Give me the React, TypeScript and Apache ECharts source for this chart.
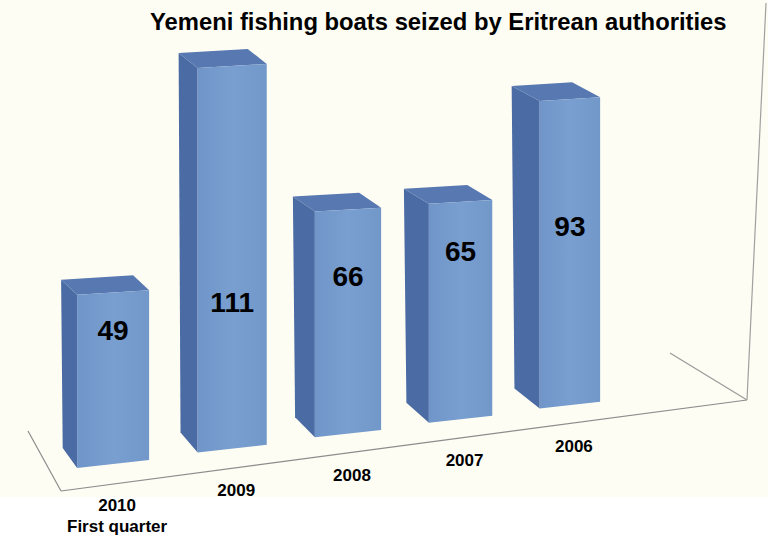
import React, { useEffect, useRef } from "react";
import * as echarts from "echarts";

const titleText = "Yemeni fishing boats seized by Eritrean authorities";
const categories = ["2010\nFirst quarter", "2009", "2008", "2007", "2006"];
const seized = [49, 111, 66, 65, 93];

export default function App() {
  const ref = useRef<HTMLDivElement>(null);
  useEffect(() => {
    if (!ref.current) return;
    const chart = echarts.init(ref.current, undefined, { renderer: "svg" });
    const n = categories.length;
    const font = "'Liberation Sans', Arial, sans-serif";
    const option: any = {
      animation: false,
      backgroundColor: "#ffffff",
      title: {
        text: titleText,
        left: 145,
        top: 4,
        textStyle: { fontFamily: font, fontSize: 23.8, fontWeight: "bold", color: "#000" },
      },
      grid: { left: 56, right: 141, top: 44, bottom: 73 },
      xAxis: { type: "category", data: categories, show: false },
      yAxis: { type: "value", min: 0, max: 120, show: false },
      graphic: [
        { type: "rect", z: -10, silent: true, shape: { x: 0, y: 0, width: 768, height: 497 }, style: { fill: "#fefdf3" } },
        { type: "line", z: 1, silent: true, shape: { x1: 28, y1: 431, x2: 61, y2: 491 }, style: { stroke: "#8c8c8c", lineWidth: 1.2 } },
        { type: "line", z: 1, silent: true, shape: { x1: 61, y1: 491, x2: 747, y2: 400 }, style: { stroke: "#8c8c8c", lineWidth: 1.2 } },
        { type: "line", z: 1, silent: true, shape: { x1: 670, y1: 353, x2: 747, y2: 400 }, style: { stroke: "#9a9a9a", lineWidth: 1.2 } },
        { type: "line", z: 1, silent: true, shape: { x1: 747, y1: 400, x2: 766, y2: 3 }, style: { stroke: "#a0a0a0", lineWidth: 1.2 } },
      ],
      series: [
        {
          type: "custom",
          data: seized.map((v, i) => [i, v]),
          encode: { x: 0, y: 1 },
          renderItem: (params: any, api: any) => {
            const i = api.value(0);
            const v = api.value(1);
            const first = api.coord([0, 0]);
            const last = api.coord([n - 1, 0]);
            const base = api.coord([i, 0]);
            const topLin = api.coord([i, v]);
            const span = last[0] - first[0];
            const t = (base[0] - first[0]) / span;
            const k = 0.057;
            const xc = first[0] + span * (t * (1 + k) - k * t * t);
            const yb = base[1] - 0.129 * (xc - first[0]);
            const h = (base[1] - topLin[1]) * (1 - 0.06 * t);
            const yt = yb - h;
            const w = 72 * (1 - 0.16 * t);
            const BL = [xc - w / 2, yb + 0.11 * w / 2];
            const BR = [xc + w / 2, yb - 0.11 * w / 2];
            const TL = [xc - w / 2, yt + 0.06 * w / 2];
            const TR = [xc + w / 2, yt - 0.06 * w / 2];
            const dx = -(16 + 12 * t);
            const dy = -15;
            const TLb = [TL[0] + dx, TL[1] + dy];
            const TRb = [TR[0] + dx, TR[1] + dy];
            const BLb = [BL[0] + dx * 0.9, BL[1] - 20];
            const labelY = first[1] - 134 - 0.227 * (xc - first[0]);
            return {
              type: "group",
              children: [
                { type: "polygon", shape: { points: [TLb, TL, BL, BLb] }, style: { fill: "#4a6ba3" } },
                { type: "polygon", shape: { points: [TLb, TRb, TR, TL] }, style: { fill: "#5878b1" } },
                {
                  type: "polygon",
                  shape: { points: [TL, TR, BR, BL] },
                  style: {
                    fill: new echarts.graphic.LinearGradient(0, 0, 1, 0, [
                      { offset: 0, color: "#7095c8" },
                      { offset: 0.5, color: "#799ed0" },
                      { offset: 1, color: "#7298ca" },
                    ]),
                  },
                },
                {
                  type: "text",
                  style: {
                    text: String(v),
                    x: xc,
                    y: labelY,
                    align: "center",
                    verticalAlign: "middle",
                    fontFamily: font,
                    fontSize: 28,
                    fontWeight: "bold",
                    fill: "#000",
                  },
                },
                {
                  type: "text",
                  style: {
                    text: categories[i],
                    x: xc + 4,
                    y: yb + 31,
                    align: "center",
                    verticalAlign: "top",
                    lineHeight: 21,
                    fontFamily: font,
                    fontSize: 17,
                    fontWeight: "bold",
                    fill: "#000",
                  },
                },
              ],
            };
          },
        },
      ],
    };
    chart.setOption(option);
    return () => chart.dispose();
  }, []);
  return <div ref={ref} style={{ position: "fixed", left: 0, top: 0, width: 768, height: 537 }} />;
}
